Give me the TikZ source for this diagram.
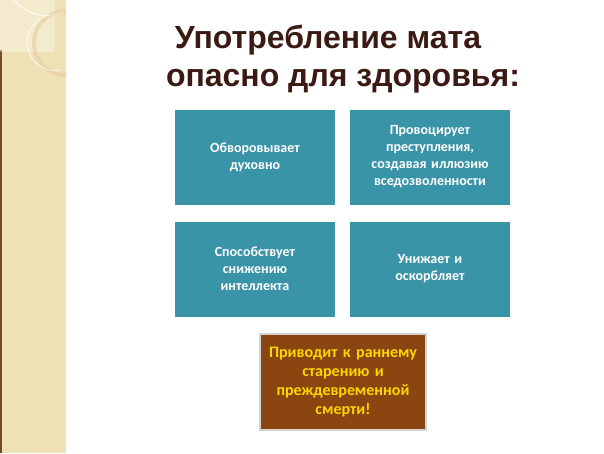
\documentclass[tikz,border=0pt]{standalone}
\usepackage{fontspec}
\setmainfont{Carlito}
\newfontfamily\titlefont{Liberation Sans}
\begin{document}
\begin{tikzpicture}[x=1pt,y=-1pt,
  tbox/.style={fill=teal1,draw=none,minimum width=160pt,minimum height=95pt,text width=150pt,align=center,text=white,font=\bfseries\fontsize{14}{17}\selectfont},
  ]
\definecolor{teal1}{HTML}{3A94A8}
\definecolor{beige}{HTML}{EFE1B6}
\definecolor{brownbox}{HTML}{8B4510}
\definecolor{titlec}{HTML}{3A1A12}
\useasboundingbox (0,0) rectangle (604,453);
\fill[white] (0,0) rectangle (604,453);
\fill[beige] (0,0) rectangle (66,453);
\draw[brown!60!black,line width=1.2pt] (1,50) -- (1,453);
\fill[white,opacity=0.35] (0,0) rectangle (55,52);
\draw[white!85!beige,line width=1pt] (66,10) arc (60:200:40);
\draw[beige!80!brown,line width=4pt,opacity=0.6] (66,75) arc (90:270:32);
\draw[white,line width=0.6pt] (60,70) arc (80:260:28);
\node[font=\titlefont\bfseries\fontsize{32}{38}\selectfont,text=titlec,align=center] (title) at (343,59) {\hspace*{-30pt}Употребление мата\\ опасно для здоровья:};
\node[tbox] (b1) at (255,157) {Обворовывает\\духовно};
\node[tbox] (b2) at (430,157) {Провоцирует\\преступления,\\создавая иллюзию\\вседозволенности};
\node[tbox] (b3) at (255,269) {Способствует\\снижению\\интеллекта};
\node[tbox] (b4) at (430,269) {Унижает и\\оскорбляет};
\node[fill=brownbox,draw=gray!35,line width=2pt,minimum width=162pt,minimum height=96pt,text width=160pt,align=center,text={rgb,255:red,250;green,215;blue,0},font=\bfseries\fontsize{16}{19}\selectfont] (b5) at (343,382) {Приводит к раннему\\старению и\\преждевременной\\смерти!};
\end{tikzpicture}
\end{document}
